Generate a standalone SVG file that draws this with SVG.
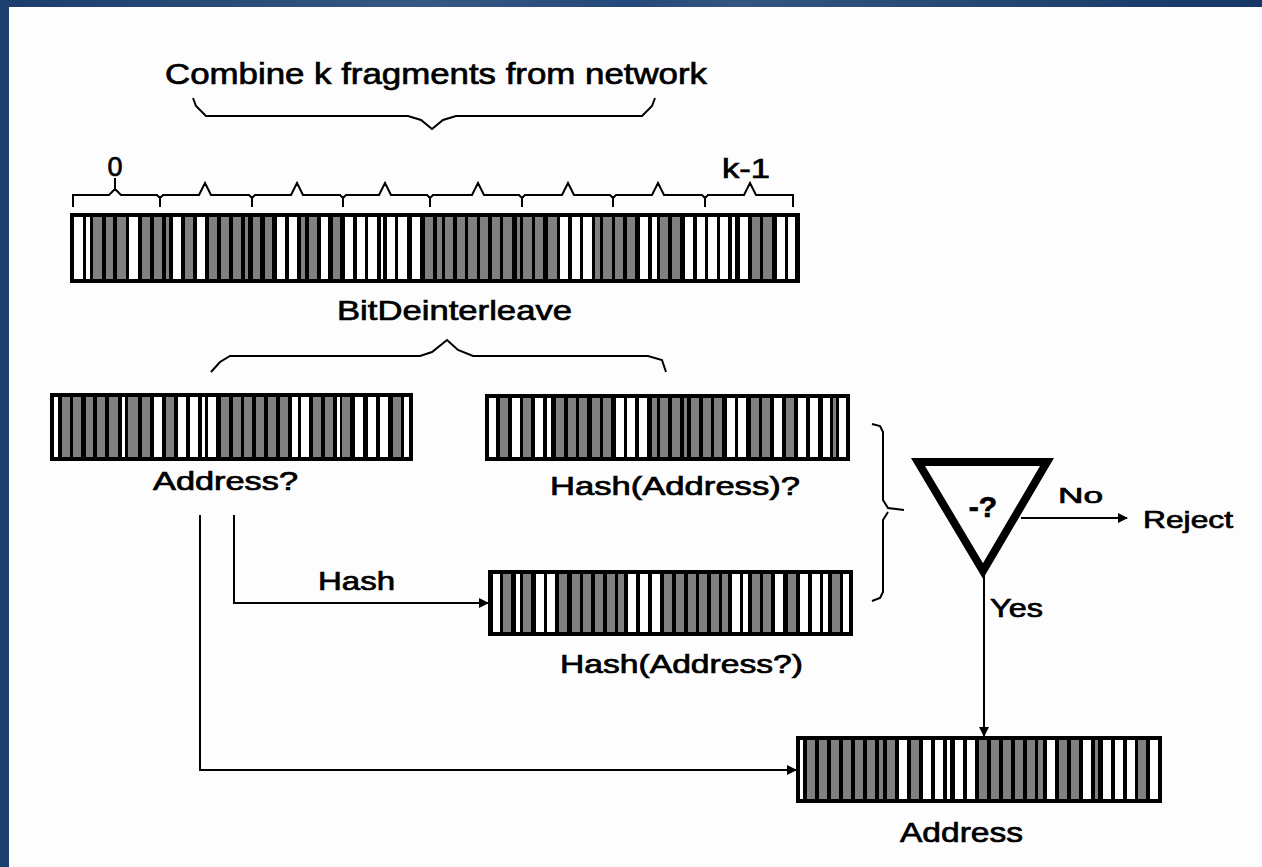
<svg xmlns="http://www.w3.org/2000/svg" width="1262" height="867" viewBox="0 0 1262 867">
  <defs>
    <linearGradient id="band" x1="0" y1="0" x2="1" y2="0">
      <stop offset="0" stop-color="#1b3d6c"/>
      <stop offset="0.34" stop-color="#365883"/>
      <stop offset="0.5" stop-color="#24487a"/>
      <stop offset="0.58" stop-color="#33557f"/>
      <stop offset="1" stop-color="#163766"/>
    </linearGradient>
    <marker id="head" markerUnits="userSpaceOnUse" markerWidth="10" markerHeight="10" refX="9" refY="5" orient="auto">
      <path d="M0,0 L10,5 L0,10 z" fill="#000"/>
    </marker>
    <style>
      .lbl { font-family: "Liberation Sans", Arial, sans-serif; fill: #000; stroke: #000; stroke-width: 0.7; }
      .ln { stroke: #000; stroke-width: 2; fill: none; }
      .frame { fill: #000; }
      .w { fill: #fff; }
      .g { fill: #808080; }
    </style>
  </defs>

  <!-- page background and blue slide frame -->
  <rect x="0" y="0" width="1262" height="867" fill="#fdfdfd"/>
  <rect x="0" y="0" width="1262" height="7" fill="url(#band)"/>
  <rect x="0" y="0" width="9" height="867" fill="#1c4070"/>

  <!-- heading and top brace -->
  <g id="combine">
    <text class="lbl" x="165" y="84" font-size="29" textLength="542" lengthAdjust="spacingAndGlyphs">Combine k fragments from network</text>
    <path class="ln" d="M193,98 L196,106 L206,116 H408 L421,120 L432,129 L443,120 L456,116 H642 L652,106 L655,98"/>
  </g>

  <!-- fragment braces over the combined word -->
  <g id="fragments">
    <text class="lbl" x="115" y="176" font-size="27" text-anchor="middle">0</text>
    <text class="lbl" x="722" y="178" font-size="27" textLength="48" lengthAdjust="spacingAndGlyphs">k-1</text>
    <path class="ln" d="M73,207 V195 H109 L115,189 V178 M115,189 L121,195 H157 L160,198 V207
      M160,198 L163,195 H199 L205,183 L211,195 H249 L252,198 V207
      M252,198 L255,195 H291 L297,183 L303,195 H340 L343,198 V207
      M343,198 L346,195 H379 L385,183 L391,195 H427 L430,198 V207
      M430,198 L433,195 H472 L478,183 L484,195 H519 L522,198 V207
      M522,198 L525,195 H562 L568,183 L574,195 H610 L613,198 V207
      M613,198 L616,195 H652 L658,183 L664,195 H702 L705,198 V207
      M705,198 L708,195 H744 L750,183 L756,195 H793 V207"/>
  </g>

  <!-- combined bit string -->
  <g id="combined">
    <rect class="frame" x="70" y="213" width="730" height="70"/>
    <path class="w" d="M74 217h9v62h-9z M86 217h4v62h-4z M129 217h9v62h-9z M173 217h8v62h-8z M197 217h8v62h-8z M277 217h8v62h-8z M289 217h8v62h-8z M321 217h7v62h-7z M345 217h8v62h-8z M357 217h8v62h-8z M368 217h9v62h-9z M381 217h2v62h-2z M387 217h8v62h-8z M398 217h9v62h-9z M412 217h8v62h-8z M560 217h8v62h-8z M572 217h8v62h-8z M583 217h9v62h-9z M640 217h8v62h-8z M652 217h5v62h-5z M685 217h8v62h-8z M697 217h8v62h-8z M708 217h9v62h-9z M720 217h8v62h-8z M732 217h3v62h-3z M740 217h8v62h-8z M777 217h8v62h-8z M788 217h7v62h-7z"/>
    <path class="g" d="M93 217h9v62h-9z M106 217h7v62h-7z M117 217h9v62h-9z M142 217h8v62h-8z M154 217h8v62h-8z M166 217h3v62h-3z M185 217h8v62h-8z M209 217h8v62h-8z M221 217h8v62h-8z M233 217h8v62h-8z M245 217h3v62h-3z M253 217h7v62h-7z M265 217h7v62h-7z M301 217h4v62h-4z M309 217h8v62h-8z M333 217h7v62h-7z M425 217h8v62h-8z M437 217h5v62h-5z M445 217h8v62h-8z M457 217h8v62h-8z M468 217h9v62h-9z M480 217h8v62h-8z M492 217h8v62h-8z M503 217h9v62h-9z M517 217h3v62h-3z M523 217h9v62h-9z M535 217h8v62h-8z M548 217h9v62h-9z M595 217h5v62h-5z M603 217h9v62h-9z M615 217h8v62h-8z M627 217h8v62h-8z M660 217h8v62h-8z M672 217h8v62h-8z M752 217h8v62h-8z M763 217h9v62h-9z"/>
  </g>

  <!-- deinterleave step -->
  <g id="deinterleave">
    <text class="lbl" x="337" y="320" font-size="28" textLength="235" lengthAdjust="spacingAndGlyphs">BitDeinterleave</text>
    <path class="ln" d="M211,372 L220,362 L230,356 H420 L432,352 L447,340 L458,350 L473,356 H648 L662,360 L666,372"/>
  </g>

  <!-- candidate address -->
  <g id="address-candidate">
    <rect class="frame" x="50" y="393" width="363" height="68"/>
    <path class="w" d="M54 397h4v60h-4z M122 397h3v60h-3z M154 397h8v60h-8z M178 397h8v60h-8z M190 397h8v60h-8z M202 397h3v60h-3z M208 397h8v60h-8z M292 397h6v60h-6z M301 397h8v60h-8z M337 397h3v60h-3z M355 397h8v60h-8z M368 397h8v60h-8z M380 397h8v60h-8z M404 397h5v60h-5z"/>
    <path class="g" d="M62 397h8v60h-8z M73 397h8v60h-8z M86 397h7v60h-7z M97 397h8v60h-8z M109 397h9v60h-9z M128 397h10v60h-10z M142 397h8v60h-8z M166 397h8v60h-8z M221 397h8v60h-8z M233 397h8v60h-8z M244 397h8v60h-8z M256 397h8v60h-8z M268 397h8v60h-8z M280 397h8v60h-8z M313 397h8v60h-8z M325 397h8v60h-8z M342 397h8v60h-8z M393 397h8v60h-8z"/>
    <text class="lbl" x="153" y="490" font-size="25" textLength="145" lengthAdjust="spacingAndGlyphs">Address?</text>
  </g>

  <!-- received hash -->
  <g id="hash-received">
    <rect class="frame" x="485" y="394" width="365" height="67"/>
    <path class="w" d="M489 398h7v59h-7z M512 398h8v59h-8z M535 398h8v59h-8z M547 398h4v59h-4z M616 398h8v59h-8z M627 398h8v59h-8z M639 398h8v59h-8z M727 398h8v59h-8z M738 398h8v59h-8z M774 398h8v59h-8z M798 398h8v59h-8z M810 398h8v59h-8z M823 398h7v59h-7z M839 398h7v59h-7z"/>
    <path class="g" d="M500 398h8v59h-8z M523 398h8v59h-8z M556 398h8v59h-8z M568 398h8v59h-8z M579 398h8v59h-8z M592 398h8v59h-8z M603 398h8v59h-8z M652 398h5v59h-5z M660 398h8v59h-8z M672 398h8v59h-8z M684 398h3v59h-3z M691 398h8v59h-8z M703 398h8v59h-8z M714 398h8v59h-8z M751 398h8v59h-8z M762 398h8v59h-8z M786 398h8v59h-8z M833 398h3v59h-3z"/>
    <text class="lbl" x="550" y="495" font-size="25" textLength="250" lengthAdjust="spacingAndGlyphs">Hash(Address)?</text>
  </g>

  <!-- recomputed hash -->
  <g id="hash-computed">
    <rect class="frame" x="488" y="570" width="365" height="66"/>
    <path class="w" d="M493 574h7v58h-7z M516 574h4v58h-4z M536 574h8v58h-8z M547 574h8v58h-8z M628 574h8v58h-8z M640 574h8v58h-8z M652 574h8v58h-8z M732 574h8v58h-8z M743 574h5v58h-5z M775 574h8v58h-8z M800 574h8v58h-8z M812 574h8v58h-8z M823 574h5v58h-5z M843 574h6v58h-6z"/>
    <path class="g" d="M503 574h8v58h-8z M523 574h8v58h-8z M559 574h8v58h-8z M572 574h8v58h-8z M583 574h8v58h-8z M595 574h8v58h-8z M607 574h8v58h-8z M618 574h6v58h-6z M664 574h8v58h-8z M676 574h8v58h-8z M688 574h8v58h-8z M699 574h8v58h-8z M711 574h8v58h-8z M722 574h6v58h-6z M752 574h8v58h-8z M763 574h8v58h-8z M788 574h8v58h-8z M832 574h8v58h-8z"/>
    <text class="lbl" x="560" y="673" font-size="25" textLength="243" lengthAdjust="spacingAndGlyphs">Hash(Address?)</text>
  </g>

  <!-- compare the two hashes -->
  <g id="compare">
    <path class="ln" d="M872,424 L880,426 L883,432 V500 L888,508 L904,510 M888,512 L883,520 V592 L880,598 L872,601"/>
    <polygon points="918,462 1047,462 983,571" fill="none" stroke="#000" stroke-width="8" stroke-linejoin="miter"/>
    <text class="lbl" x="983" y="517" font-size="30" font-weight="bold" text-anchor="middle">-?</text>
  </g>

  <!-- verified address -->
  <g id="address">
    <rect class="frame" x="796" y="736" width="366" height="67"/>
    <path class="w" d="M800 740h3v59h-3z M899 740h8v59h-8z M923 740h8v59h-8z M935 740h8v59h-8z M947 740h3v59h-3z M955 740h8v59h-8z M967 740h8v59h-8z M1047 740h8v59h-8z M1083 740h8v59h-8z M1103 740h8v59h-8z M1115 740h8v59h-8z M1127 740h8v59h-8z M1150 740h8v59h-8z"/>
    <path class="g" d="M807 740h8v59h-8z M819 740h8v59h-8z M831 740h8v59h-8z M843 740h8v59h-8z M855 740h8v59h-8z M867 740h8v59h-8z M879 740h4v59h-4z M887 740h8v59h-8z M911 740h8v59h-8z M979 740h8v59h-8z M991 740h8v59h-8z M1003 740h8v59h-8z M1015 740h8v59h-8z M1027 740h8v59h-8z M1038 740h5v59h-5z M1059 740h8v59h-8z M1071 740h8v59h-8z M1095 740h3v59h-3z M1138 740h8v59h-8z"/>
    <text class="lbl" x="900" y="842" font-size="28" textLength="123" lengthAdjust="spacingAndGlyphs">Address</text>
  </g>

  <g id="reject">
    <text class="lbl" x="1143" y="528" font-size="24" textLength="90" lengthAdjust="spacingAndGlyphs">Reject</text>
  </g>

  <!-- connectors -->
  <g id="connectors">
    <path class="ln" d="M234,515 V603 H488" marker-end="url(#head)"/>
    <text class="lbl" x="318" y="590" font-size="25" textLength="77" lengthAdjust="spacingAndGlyphs">Hash</text>
    <path class="ln" d="M200,515 V770 H796" marker-end="url(#head)"/>
    <path class="ln" d="M984,575 V736" marker-end="url(#head)"/>
    <text class="lbl" x="990" y="617" font-size="25" textLength="53" lengthAdjust="spacingAndGlyphs">Yes</text>
    <path class="ln" d="M1021,518 H1127" marker-end="url(#head)"/>
    <text class="lbl" x="1058" y="503" font-size="22" textLength="45" lengthAdjust="spacingAndGlyphs">No</text>
  </g>
</svg>
